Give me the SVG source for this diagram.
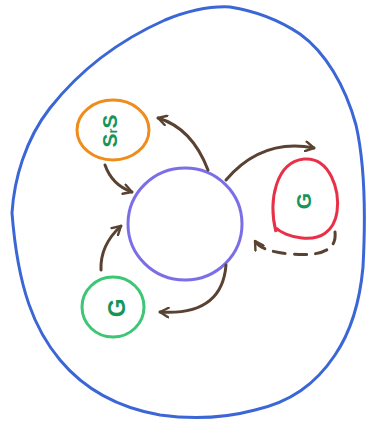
<svg xmlns="http://www.w3.org/2000/svg" width="368" height="421" viewBox="0 0 368 421">
<defs>
<style>
.lbl{font-family:"Liberation Sans",Arial,sans-serif;font-weight:bold;fill:#16955a;text-anchor:middle}
.con{fill:none;stroke:#5a4232;stroke-width:3;stroke-linecap:round}
.dash{stroke-dasharray:12 9}
</style>
<marker id="ah" viewBox="0 0 10 10" refX="8" refY="5" markerWidth="4" markerHeight="4" orient="auto" markerUnits="strokeWidth">
<path d="M1,1 L8,5 L1,9" fill="none" stroke="#5a4232" stroke-width="2" stroke-linecap="round" stroke-linejoin="round"/>
</marker>
</defs>
<rect width="368" height="421" fill="#fff"/>
<g id="cell">
<path d="M230,7 C262,12 285,24 300,34 C325,52 345,85 356,125 C364,160 366,210 363,267 C360,300 352,330 335,355 C315,385 290,402 255,410 C225,418 195,420 160,415 C120,408 85,390 60,360 C35,330 18,290 12,213 C14,180 25,140 50,108 C80,70 120,40 165,20 C190,10 210,6 230,7 Z" fill="none" stroke="#3a66d6" stroke-width="3"/>
</g>
<g id="center">
<ellipse cx="185" cy="224" rx="57" ry="56" fill="none" stroke="#7b6ee6" stroke-width="3"/>
</g>
<g id="orange">
<ellipse cx="113" cy="130" rx="36" ry="30" fill="none" stroke="#f08c1c" stroke-width="3"/>
<text class="lbl" transform="translate(110,131) rotate(-90)" y="7" font-size="21">S<tspan font-size="13">r</tspan>S</text>
</g>
<g id="red">
<path d="M276,232 C268,200 276,162 304,159 C330,157 340,190 337,212 C334,232 320,240 302,238 C290,237 280,232 276,228" fill="none" stroke="#e83148" stroke-width="3"/>
<text class="lbl" transform="translate(304,201) rotate(-90)" y="7" font-size="21">G</text>
</g>
<g id="green">
<ellipse cx="113" cy="307" rx="31" ry="30" fill="none" stroke="#3cc676" stroke-width="3"/>
<text class="lbl" transform="translate(117,308) rotate(-90)" y="8" font-size="24">G</text>
</g>
<g id="connectors">
<path class="con" d="M208,170 Q192,128 158,118" marker-end="url(#ah)"/>
<path class="con" d="M105,165 Q112,185 132,192" marker-end="url(#ah)"/>
<path class="con" d="M226,180 Q262,138 314,148" marker-end="url(#ah)"/>
<path class="con dash" d="M335,232 Q338,258 292,254 Q262,252 255,241" marker-end="url(#ah)"/>
<path class="con" d="M101,270 Q100,245 121,226" marker-end="url(#ah)"/>
<path class="con" d="M226,265 Q222,316 160,312" marker-end="url(#ah)"/>
</g>
</svg>
